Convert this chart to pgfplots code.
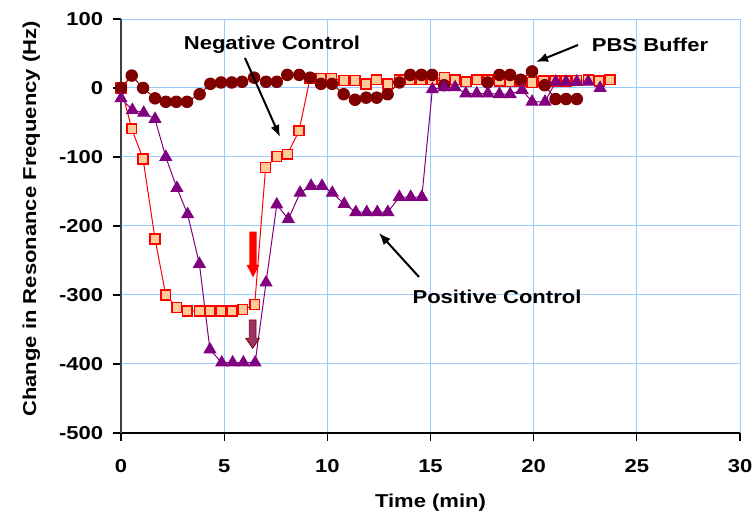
\documentclass[border=0pt]{standalone}
\usepackage{fontspec}
\setmainfont{Liberation Sans}[FakeStretch=1.18]
\usepackage{pgfplots}
\pgfplotsset{compat=1.18}
\usetikzlibrary{arrows.meta}
\definecolor{gridblue}{RGB}{153,204,255}
\definecolor{pbscol}{RGB}{128,0,0}
\definecolor{negfill}{RGB}{255,204,153}
\definecolor{poscol}{RGB}{128,0,128}
\definecolor{axgray}{RGB}{64,64,64}
\definecolor{maroonfill}{RGB}{153,51,102}

\pgfplotstableread{
x y
0 0
0.52 -59
1.07 -103
1.65 -219
2.17 -300
2.70 -318
3.21 -323
3.80 -323
4.31 -323
4.85 -323
5.38 -323
5.90 -321
6.48 -314
7.01 -115
7.55 -99
8.06 -96
8.63 -62
9.16 14
9.68 14
10.21 14
10.81 11
11.34 11
11.88 6
12.39 12
12.93 6
13.49 12
14.01 12
14.54 12
15.07 12
15.67 15
16.19 12
16.72 9
17.24 12
17.78 12
18.34 10
18.86 9
19.39 10
19.92 8
20.47 10
21.04 10
21.57 10
22.09 11
22.65 12
23.18 10
23.70 12
}\negdata

\pgfplotstableread{
x y
0 0
0.52 18
1.07 0
1.65 -15
2.17 -20
2.68 -20
3.20 -20
3.81 -9
4.33 6
4.85 8
5.37 8
5.87 9
6.45 15
7.03 9
7.55 9
8.06 19
8.64 19
9.16 15
9.69 6
10.23 6
10.79 -9
11.34 -17
11.88 -14
12.39 -14
12.92 -9
13.49 8
14.02 19
14.56 19
15.08 19
15.66 4
17.77 8
18.34 19
18.86 19
19.37 12
19.92 24
20.53 4
21.06 -16
21.57 -16
22.09 -16
}\pbsdata

\pgfplotstableread{
x y
0 -15
0.55 -32
1.10 -36
1.65 -45
2.17 -100
2.71 -145
3.23 -183
3.80 -255
4.31 -379
4.88 -398
5.41 -398
5.93 -398
6.50 -398
7.03 -282
7.55 -169
8.11 -190
8.68 -152
9.21 -142
9.74 -142
10.24 -152
10.82 -168
11.38 -180
11.91 -180
12.42 -180
12.93 -180
13.49 -158
14.04 -158
14.58 -158
15.09 -2
15.66 1
16.19 1
16.71 -8
17.24 -8
17.78 -8
18.34 -9
18.86 -9
19.44 -3
19.92 -20
20.55 -20
21.07 9
21.57 9
22.09 9
22.64 9
23.22 0
}\posdata

\begin{document}
\fontsize{14pt}{16pt}\selectfont\bfseries
\begin{tikzpicture}
\useasboundingbox (0,0) rectangle (564pt,387pt);
\begin{axis}[
  at={(90.75pt,62.25pt)}, anchor=south west,
  scale only axis, width=464.25pt, height=310.5pt,
  xmin=0, xmax=30, ymin=-500, ymax=100,
  xtick={0,5,...,30}, ytick={-500,-400,...,100},
  axis x line=bottom, axis y line=left,
  x axis line style={-, black, line width=0.9pt},
  y axis line style={-, axgray, line width=2.2pt},
  tick align=outside,
  major tick length=6pt,
  tick style={black, line width=0.8pt},
  grid=major, major grid style={gridblue, line width=0.75pt},
  /pgf/number format/assume math mode=true,
  ticklabel style={font=\fontsize{14pt}{16pt}\selectfont\bfseries},
  xticklabel style={yshift=-9pt},
  yticklabel style={xshift=-2.5pt},
  xlabel={Time (min)}, ylabel={Change in Resonance Frequency (Hz)},
  xlabel style={at={(axis description cs:0.5,-0.169)}, anchor=center},
  ylabel style={at={(axis description cs:-0.145,0.517)}, anchor=center},
  label style={font=\fontsize{14pt}{16pt}\selectfont\bfseries},
  clip=false,
]
\addplot[red, line width=0.75pt, mark=square*, mark size=3.7pt,
  mark options={fill=negfill, draw=red, line width=1.1pt, solid}] table[x=x,y=y] {\negdata};
\addplot[pbscol, line width=0.75pt, mark=*, mark size=4.3pt,
  mark options={fill=pbscol, draw=pbscol, solid}] table[x=x,y=y] {\pbsdata};
\addplot[poscol, line width=0.75pt, mark=triangle*, mark size=5pt,
  mark options={fill=poscol, draw=poscol, solid}] table[x=x,y=y] {\posdata};
\end{axis}
\begin{scope}[x=0.75pt,y=-0.75pt,shift={(0pt,387pt)}]
\node at (272,45) {Negative Control};
\node at (650,45) {PBS Buffer};
\node at (497,297) {Positive Control};
\draw[line width=1.5pt, -{Latex[length=9pt,width=7pt]}] (245,58) -- (280,137);
\draw[line width=1.5pt, -{Latex[length=9pt,width=7pt]}] (578,45) -- (536,62);
\draw[line width=1.5pt, -{Latex[length=9pt,width=7pt]}] (419,277) -- (379,233);
\fill[red] (249.3,231.7) -- (256.7,231.7) -- (256.7,265) -- (259.3,265) -- (253,277.3) -- (246.7,265) -- (249.3,265) -- cycle;
\filldraw[fill=maroonfill, draw=pbscol, line width=0.6pt] (249.3,320) -- (256,320) -- (256,338.3) -- (259.3,338.3) -- (252.7,348.3) -- (245.7,338.3) -- (249.3,338.3) -- cycle;
\end{scope}
\end{tikzpicture}
\end{document}
